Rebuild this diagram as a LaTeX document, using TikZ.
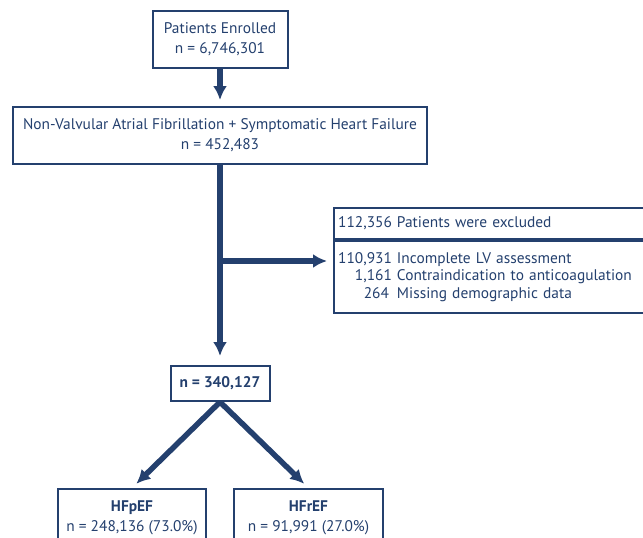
\documentclass[tikz,border=0pt]{standalone}
\usepackage{fontspec}
\setmainfont{PT Sans}
\usetikzlibrary{arrows.meta}
\definecolor{navy}{HTML}{24406E}

\begin{document}
\begin{tikzpicture}[x=1pt, y=-1pt]
        \tikzset{box/.style = {shape=rectangle, draw=navy, line width=2pt, text=navy, align=center, font=\fontsize{15.4}{20}\selectfont, minimum height=57pt}}
        \tikzset{edge/.style = {-{Latex[length=14pt,width=14pt]}, line width=5.5pt, draw=navy, shorten >=6pt}}
        \path[use as bounding box, clip] (0,0) rectangle (643,538);
        % boxes
        \node[box, minimum width=135pt] (1) at (220,39.5) {Patients Enrolled\\n = 6,746,301};
        \node[box, minimum width=414pt] (2) at (220,135.5) {Non-Valvular Atrial Fibrillation + Symptomatic Heart Failure\\n = 452,483};
        \node[box, anchor=north west, align=left, text width=310pt, inner xsep=8pt, minimum height=31pt] (3) at (333,207) {\makebox[50pt][r]{112,356}\hspace{5pt}Patients were excluded};
        \node[box, anchor=north, align=left, text width=310pt, inner xsep=8pt, minimum height=72pt, font=\fontsize{15.4}{17.5}\selectfont] (3b) at (3.south) {\makebox[50pt][r]{110,931}\hspace{5pt}Incomplete LV assessment\\\makebox[50pt][r]{1,161}\hspace{5pt}Contraindication to anticoagulation\\\makebox[50pt][r]{264\hspace{3pt}}\hspace{5pt}Missing demographic data};
        \node[box, minimum width=99pt, minimum height=35pt] (4) at (220,383.5) {\bfseries n = 340,127};
        \node[box, minimum width=148pt] (5) at (132,517.5) {\bfseries HFpEF\\n = 248,136 (73.0\%)};
        \node[box, minimum width=149pt] (6) at (308.5,517.5) {\bfseries HFrEF\\n = 91,991 (27.0\%)};
        \coordinate (b) at (220,261);
        %edges
        \draw[edge] (1) to (2);
        \draw[edge, shorten >=9pt] (2) to (4);
        \draw[edge] (b) to (b -| 3b.west);
        \draw[edge] (4.south) to (5.north);
        \draw[edge] (4.south) to (6.north);
\end{tikzpicture}
\end{document}
